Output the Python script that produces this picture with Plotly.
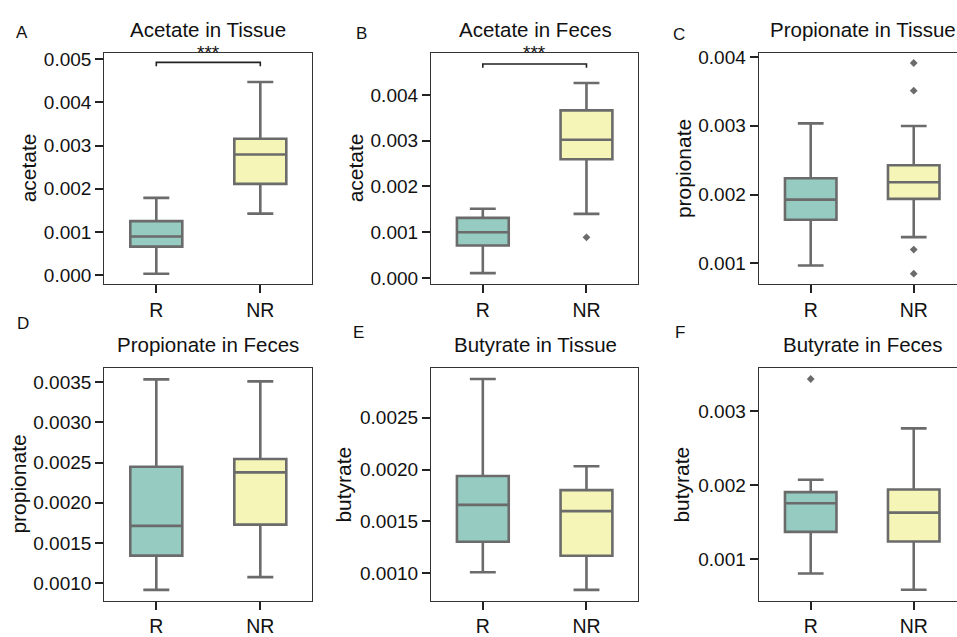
import plotly.graph_objects as go

# ---------------- data ----------------
panel_letters = ["A", "B", "C", "D", "E", "F"]
panel_titles = ["Acetate in Tissue", "Acetate in Feces", "Propionate in Tissue",
                "Propionate in Feces", "Butyrate in Tissue", "Butyrate in Feces"]
y_labels = ["acetate", "acetate", "propionate", "propionate", "butyrate", "butyrate"]
groups = ["R", "NR"]

# R group box statistics (per panel A..F)
r_low = [0.000038, 0.000107, 0.000967, 0.000919, 0.001012, 0.000811]
r_q1 = [0.000664, 0.000712, 0.001633, 0.001344, 0.001305, 0.001371]
r_median = [0.000899, 0.001002, 0.001927, 0.001713, 0.001660, 0.001758]
r_q3 = [0.001253, 0.001315, 0.002237, 0.002447, 0.001937, 0.001908]
r_high = [0.001790, 0.001514, 0.003036, 0.003533, 0.002871, 0.002075]
r_outliers = [[], [], [], [], [], [0.003432]]

# NR group box statistics (per panel A..F)
nr_low = [0.001427, 0.001401, 0.001381, 0.001077, 0.000842, 0.000591]
nr_q1 = [0.002114, 0.002595, 0.001937, 0.001729, 0.001170, 0.001242]
nr_median = [0.002793, 0.003021, 0.002180, 0.002378, 0.001600, 0.001631]
nr_q3 = [0.003156, 0.003661, 0.002427, 0.002544, 0.001802, 0.001943]
nr_high = [0.004470, 0.004258, 0.002997, 0.003508, 0.002031, 0.002767]
nr_outliers = [[], [0.000889], [0.003914, 0.003511, 0.001200, 0.000849], [], [], []]

# significance brackets: panel index, label, bracket height
sig_panels = [0, 1]
sig_labels = ["***", "***"]
sig_heights = [0.004923, 0.004676]
sig_drops = [0.00009, 0.000085]

# axis ranges / ticks
y_ranges = [[-0.000204, 0.00515], [-0.000134, 0.004925], [0.000696, 0.004066],
            [0.000785, 0.003675], [0.000739, 0.002977], [0.000445, 0.003581]]
y_tick0 = [0.0, 0.0, 0.001, 0.001, 0.001, 0.001]
y_dtick = [0.001, 0.001, 0.001, 0.0005, 0.0005, 0.001]
y_fmt = [".3f", ".3f", ".3f", ".4f", ".4f", ".3f"]

# ---------------- style / layout ----------------
W, H = 957, 637
R_FILL = "#95cbc1"
NR_FILL = "#f5f5b8"
BOX_LINE = "#6b6b6b"
AX_COL = "#333333"
FONT = "Liberation Sans, Arial, Helvetica, sans-serif"


def px(x):
    return x / W


def py(y):
    return 1 - y / H


col_px = [(104.3, 312.3), (431.0, 638.3), (758.7, 957.0)]
row_px = [(47.5, 284.0), (369.5, 607.0)]
x_ranges = [[-0.5, 1.5], [-0.5, 1.5], [-0.505, 1.42]]

fig = go.Figure()
layout = dict(
    width=W, height=H,
    margin=dict(l=0, r=0, t=0, b=0),
    paper_bgcolor="white", plot_bgcolor="white",
    showlegend=False,
    font=dict(family=FONT, color="#111111"),
)
annotations = []

for i in range(6):
    row, col = divmod(i, 3)
    ax = "" if i == 0 else str(i + 1)
    xref, yref = "x" + ax, "y" + ax
    x0, x1 = col_px[col]
    ytop, ybot = row_px[row]

    layout["xaxis" + ax] = dict(
        domain=[px(x0), min(px(x1), 1.0)],
        anchor=yref, type="category", categoryorder="array", categoryarray=groups,
        range=x_ranges[col],
        showline=True, mirror=True, linecolor=AX_COL, linewidth=1.2,
        ticks="outside", ticklen=8, tickwidth=2, tickcolor="#222222",
        tickfont=dict(size=19.5, family=FONT, color="#111111"),
        showgrid=False, zeroline=False, fixedrange=True,
    )
    layout["yaxis" + ax] = dict(
        domain=[py(ybot), py(ytop)],
        anchor=xref, range=y_ranges[i],
        tick0=y_tick0[i], dtick=y_dtick[i], tickformat=y_fmt[i],
        showline=True, mirror=(col != 2), linecolor=AX_COL, linewidth=1.2,
        ticks="outside", ticklen=8, tickwidth=2, tickcolor="#222222",
        tickfont=dict(size=19, family=FONT, color="#111111"),
        showgrid=False, zeroline=False, fixedrange=True,
    )

    stats = [
        ("R", R_FILL, r_low[i], r_q1[i], r_median[i], r_q3[i], r_high[i], r_outliers[i]),
        ("NR", NR_FILL, nr_low[i], nr_q1[i], nr_median[i], nr_q3[i], nr_high[i], nr_outliers[i]),
    ]
    for g, fill, lo, q1, med, q3, hi, outs in stats:
        fig.add_trace(go.Box(
            x=[g], q1=[q1], median=[med], q3=[q3], lowerfence=[lo], upperfence=[hi],
            fillcolor=fill, line=dict(color=BOX_LINE, width=2.6),
            width=0.5, whiskerwidth=0.5, boxpoints=False,
            xaxis=xref, yaxis=yref, hoverinfo="skip",
        ))
        if outs:
            fig.add_trace(go.Scatter(
                x=[g] * len(outs), y=outs, mode="markers",
                marker=dict(symbol="diamond", size=6, color=BOX_LINE, line=dict(width=0)),
                xaxis=xref, yaxis=yref, hoverinfo="skip", cliponaxis=False,
            ))

    # panel title (centered on full panel width, even if clipped)
    full_x1 = x0 + 208
    annotations.append(dict(
        text=panel_titles[i], xref="paper", yref="paper",
        x=px((x0 + full_x1) / 2), y=py(ytop - 24),
        xanchor="center", yanchor="middle", showarrow=False,
        font=dict(size=20.5, family=FONT, color="#111111"),
    ))
    # y-axis label
    ylab_x = [28, 355, 683.7, 18.3, 343.3, 681.3][i]
    annotations.append(dict(
        text=y_labels[i], xref="paper", yref="paper",
        x=px(ylab_x), y=py((ytop + ybot) / 2), textangle=-90,
        xanchor="center", yanchor="middle", showarrow=False,
        font=dict(size=21, family=FONT, color="#111111"),
    ))

# panel letters
letter_pos = [(21.7, 26.7), (361.7, 28.5), (679, 29.5), (22.5, 324.5), (358, 333.7), (680, 333.7)]
for letter, (lx, ly) in zip(panel_letters, letter_pos):
    annotations.append(dict(
        text=letter, xref="paper", yref="paper", x=px(lx), y=py(ly),
        xanchor="center", yanchor="middle", showarrow=False,
        font=dict(size=17, family=FONT, color="#111111"),
    ))

# significance brackets
for p, lab, h, d in zip(sig_panels, sig_labels, sig_heights, sig_drops):
    ax = "" if p == 0 else str(p + 1)
    fig.add_trace(go.Scatter(
        x=[groups[0], groups[0], groups[1], groups[1]], y=[h - d, h, h, h - d],
        mode="lines", line=dict(color="#222222", width=1.6),
        xaxis="x" + ax, yaxis="y" + ax, hoverinfo="skip", cliponaxis=False,
    ))
    annotations.append(dict(
        text=lab, xref="x" + ax + " domain", yref="paper",
        x=0.5, y=py(47), xanchor="center", yanchor="middle", showarrow=False,
        font=dict(size=19, family=FONT, color="#111111"),
    ))

layout["annotations"] = annotations
fig.update_layout(**layout)
# remove the default 8px page margin so the 957x637 figure fills the window exactly
fig.write_html("out.html",
               config={"displayModeBar": False},
               post_script="document.body.style.margin='0';"
                           "document.body.style.overflow='hidden';")
